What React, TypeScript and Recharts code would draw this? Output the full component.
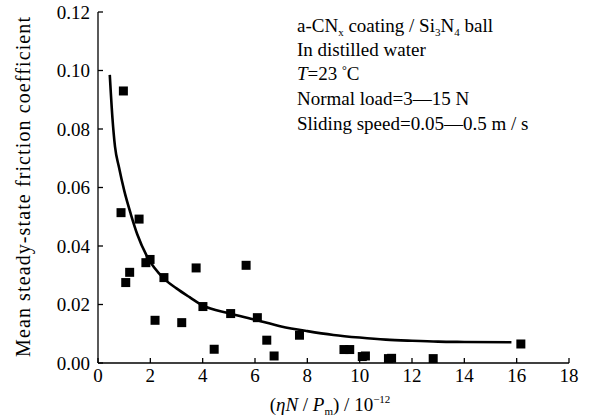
import React from 'react';
import {
  ComposedChart,
  Scatter,
  Line,
  XAxis,
  YAxis,
  Customized
} from 'recharts';

// measured points (x in 10^-12, y = friction coefficient)
const pointX = [0.97, 0.88, 1.06, 1.21, 1.57, 1.83, 1.99, 2.18, 2.52, 3.2, 3.75, 4.01, 4.44, 5.07, 5.66, 6.09, 6.45, 6.73, 7.7, 9.4, 9.62, 10.1, 10.22, 11.1, 11.22, 12.81, 16.16];
const pointY = [0.093, 0.0514, 0.0275, 0.031, 0.0492, 0.0343, 0.0354, 0.0146, 0.0292, 0.0138, 0.0325, 0.0193, 0.0047, 0.0169, 0.0334, 0.0155, 0.0078, 0.0024, 0.0095, 0.0046, 0.0046, 0.0022, 0.0024, 0.0015, 0.0016, 0.0015, 0.0065];

// fitted curve
const curveX = [0.45, 0.55, 0.65, 0.8, 1.0, 1.25, 1.5, 1.9, 2.5, 3.0, 3.5, 4.0, 5.0, 6.0, 7.0, 8.0, 9.0, 10.0, 11.0, 12.0, 13.0, 14.0, 15.8];
const curveY = [0.0985, 0.084, 0.074, 0.067, 0.059, 0.051, 0.044, 0.036, 0.029, 0.0255, 0.0225, 0.0197, 0.017, 0.0148, 0.0125, 0.0109, 0.0096, 0.0087, 0.008, 0.0076, 0.0073, 0.0072, 0.0071];

const xTicks = [0, 2, 4, 6, 8, 10, 12, 14, 16, 18];
const yTicks = [0, 0.02, 0.04, 0.06, 0.08, 0.1, 0.12];

const points = pointX.map((x, i) => ({ x, y: pointY[i] }));
const curve = curveX.map((x, i) => ({ x, y: curveY[i] }));

const FONT = "'Liberation Serif', 'Times New Roman', serif";

const Square = (props: any) => {
  const { cx, cy } = props;
  if (cx == null || cy == null) return null;
  return <rect x={cx - 4.5} y={cy - 4.5} width={9} height={9} fill="#000" />;
};

const XTick = (props: any) => {
  const { x, y, payload } = props;
  return (
    <text x={x} y={y + 23.5} textAnchor="middle" fontFamily={FONT} fontSize={19} fill="#000">
      {payload.value}
    </text>
  );
};

const YTick = (props: any) => {
  const { x, y, payload } = props;
  return (
    <text x={x} y={y + 6.5} textAnchor="end" fontFamily={FONT} fontSize={19} fill="#000">
      {Number(payload.value).toFixed(2)}
    </text>
  );
};

const Labels = () => (
  <g fontFamily={FONT} fill="#000" fontSize={19}>
    <text
      transform="translate(23,187) rotate(-90)"
      textAnchor="middle"
      dominantBaseline="central"
      fontSize={20}
      textLength={340}
      lengthAdjust="spacing"
    >
      Mean steady-state friction coefficient
    </text>
    <text x={330} y={411} textAnchor="middle">
      (<tspan fontStyle="italic">ηN</tspan> / <tspan fontStyle="italic">P</tspan>
      <tspan fontSize={11} dy={4}>m</tspan>
      <tspan dy={-4}>) / 10</tspan>
      <tspan fontSize={11} dy={-8}>−12</tspan>
    </text>
    <g>
      <text x={297} y={32}>
        a-CN<tspan fontSize={11} dy={4}>x</tspan>
        <tspan dy={-4}> coating / Si</tspan>
        <tspan fontSize={11} dy={4}>3</tspan>
        <tspan dy={-4}>N</tspan>
        <tspan fontSize={11} dy={4}>4</tspan>
        <tspan dy={-4}> ball</tspan>
      </text>
      <text x={297} y={56}>In distilled water</text>
      <text x={297} y={80}>
        <tspan fontStyle="italic">T</tspan>=23 <tspan fontSize={12} dy={-6}>°</tspan>
        <tspan dy={6}>C</tspan>
      </text>
      <text x={297} y={105}>Normal load=3—15 N</text>
      <text x={297} y={130}>Sliding speed=0.05—0.5 m / s</text>
    </g>
  </g>
);

export default function App() {
  return (
    <div
      style={{
        position: 'absolute',
        left: 0,
        top: 0,
        width: 594,
        height: 420,
        background: '#fff'
      }}
    >
      <ComposedChart
        width={594}
        height={420}
        margin={{ top: 12, right: 25, left: 0, bottom: 0 }}
      >
        <XAxis
          xAxisId="bottom"
          type="number"
          dataKey="x"
          domain={[0, 18]}
          ticks={xTicks}
          height={57}
          tickSize={-5}
          tickMargin={0}
          tick={XTick}
          axisLine={{ stroke: '#000', strokeWidth: 1.3 }}
          tickLine={{ stroke: '#000', strokeWidth: 1.3 }}
          allowDataOverflow
        />
        <XAxis
          xAxisId="top"
          orientation="top"
          type="number"
          dataKey="x"
          domain={[0, 18]}
          height={0}
          tick={false}
          tickLine={false}
          axisLine={{ stroke: '#000', strokeWidth: 1.3 }}
        />
        <YAxis
          yAxisId="left"
          type="number"
          domain={[0, 0.12]}
          ticks={yTicks}
          width={98}
          tickSize={-5}
          tickMargin={13}
          tick={YTick}
          axisLine={{ stroke: '#000', strokeWidth: 1.3 }}
          tickLine={{ stroke: '#000', strokeWidth: 1.3 }}
          allowDataOverflow
        />
        <YAxis
          yAxisId="right"
          orientation="right"
          type="number"
          domain={[0, 0.12]}
          width={0}
          tick={false}
          tickLine={false}
          axisLine={{ stroke: '#000', strokeWidth: 1.3 }}
        />
        <Line
          xAxisId="bottom"
          yAxisId="left"
          data={curve}
          dataKey="y"
          type="monotone"
          stroke="#000"
          strokeWidth={2.6}
          dot={false}
          activeDot={false}
          isAnimationActive={false}
        />
        <Scatter
          xAxisId="bottom"
          yAxisId="left"
          data={points}
          dataKey="y"
          shape={Square}
          isAnimationActive={false}
        />
        <Customized component={Labels} />
      </ComposedChart>
    </div>
  );
}
